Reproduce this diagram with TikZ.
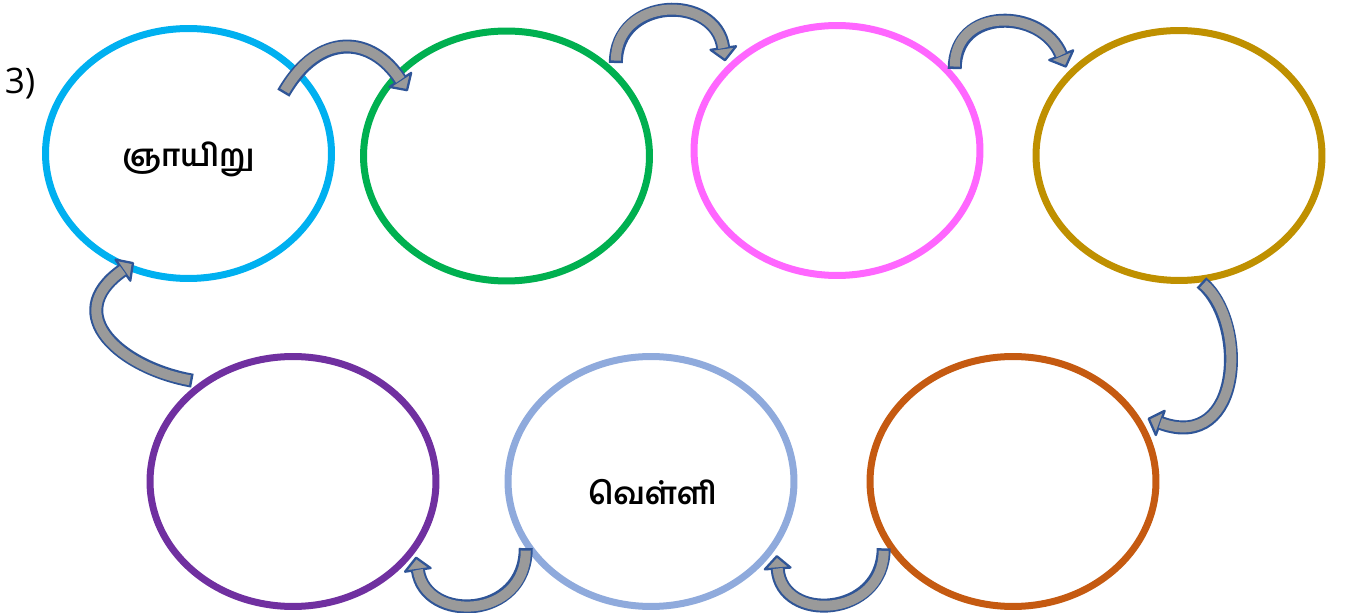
\documentclass[tikz,border=0pt]{standalone}
\usepackage{fontspec}
\setmainfont{Open Sans}
\newfontfamily\tamilfont[Script=Tamil]{Hind Madurai}
\usepackage{tikz}
\usetikzlibrary{arrows.meta,shapes.geometric}
\definecolor{sunblue}{HTML}{00B0F0}
\definecolor{mongreen}{HTML}{00B050}
\definecolor{tuepink}{HTML}{FF66FF}
\definecolor{wedgold}{HTML}{BF9000}
\definecolor{thuorange}{HTML}{C55A11}
\definecolor{friblue}{HTML}{8FAADC}
\definecolor{satpurple}{HTML}{7030A0}
\definecolor{flowedge}{HTML}{2F5597}
\definecolor{flowgray}{HTML}{9A9A9A}
\tikzset{
  day/.style={ellipse, draw=#1, line width=0.14cm, minimum width=5.72cm, minimum height=5cm, inner sep=0pt},
  dayname/.style={font=\tamilfont\bfseries\fontsize{17.5}{21}\selectfont, inner sep=0pt},
  flow/.style 2 args={line width=0.28cm, draw=flowedge, shorten <=#1, shorten >=#2,
    -{Triangle[length=0.3cm, width=0.62cm, line width=1.3pt, round, fill=flowgray]},
    postaction={draw=flowgray, line width=0.2cm, -, shorten <=#1+0.05cm, shorten >=#2+0.27cm}}
}

\begin{document}
\begin{tikzpicture}[x=0.02cm, y=0.02cm]
  \useasboundingbox (0,0) rectangle (1352,612);
  \node[font=\fontsize{20}{24}\selectfont] (num) at (20,528) {3)};

  % days of the week
  \node[day=sunblue] (sun) at (188.5,458.5) {};
  \node[day=mongreen] (mon) at (506.5,456) {};
  \node[day=tuepink] (tue) at (837,461.5) {};
  \node[day=wedgold] (wed) at (1179,456.5) {};
  \node[day=thuorange] (thu) at (1013,130.5) {};
  \node[day=friblue] (fri) at (651,130.5) {};
  \node[day=satpurple] (sat) at (293,130.5) {};

  \node[dayname] (suntext) at ([yshift=-0.11cm]sun.center) {ஞாயிறு};
  \node[dayname] (fritext) at ([xshift=0.03cm, yshift=-0.22cm]fri.center) {வெள்ளி};

  % curved arrows
  \draw[flow={-0.58cm}{-0.45cm}] (sun.38.3) to[out=60, in=123, looseness=1.13] (mon.143.4);
  \draw[flow={0.15cm}{0.11cm}] (mon.38.5) to[out=90, in=98, looseness=1.72] (tue.143.5);
  \draw[flow={0.1cm}{0.09cm}] (tue.33.5) to[out=90, in=112, looseness=1.54] (wed.143.5);
  \draw[flow={0cm}{0.2cm}] (wed.-80.6) to[out=-40, in=-20, out looseness=1.06, in looseness=1.94] (thu.28.7);
  \draw[flow={0.13cm}{0.14cm}] (thu.205.3) to[out=-90, in=-86, looseness=1.8] (fri.-28.9);
  \draw[flow={0cm}{0.09cm}] (fri.208.4) to[out=-90, in=-82, looseness=1.66] (sat.-30.2);
  \draw[flow={0.16cm}{-0.23cm}] (sat.133.7) to[out=170, in=215, looseness=1.5] (sun.241.6);
\end{tikzpicture}
\end{document}
